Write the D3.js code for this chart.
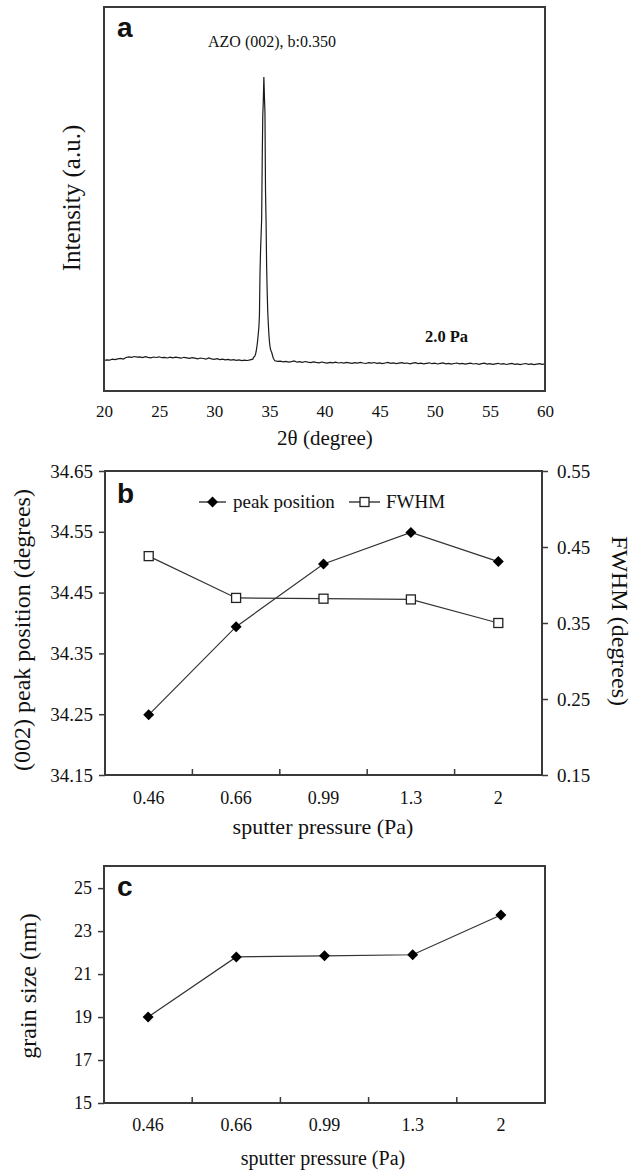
<!DOCTYPE html>
<html><head><meta charset="utf-8">
<script src="https://cdn.jsdelivr.net/npm/d3@7"></script>
<style>
body{margin:0;background:#fff;}
svg text{font-family:"Liberation Serif","Times New Roman",serif;fill:#111;}
</style></head>
<body><svg id="c" width="635" height="1170" font-family="Liberation Serif"></svg>
<script>
// ---------- Panel a: XRD pattern (2θ vs intensity) ----------
const xrdLeftStart = 20.0, xrdStep = 0.25;
const xrdLeft = [305,312,308,318,314,322,326,320,335,342,336,345,338,341,334,344,337,332,340,335,342,333,336,330,338,331,339,334,328,337,332,326,334,329,322,330,325,318,331,322,316,323,314,319,312,317,309,314,306,311,304,309,305,312,318];
const xrdPeakAngles = [33.55,33.60,33.65,33.70,33.75,33.80,33.85,33.90,33.95,34.00,34.05,34.10,34.15,34.20,34.25,34.30,34.35,34.40,34.45,34.50,34.55,34.60,34.65,34.70,34.75,34.80,34.85,34.90,34.95,35.00,35.05,35.10,35.15,35.20,35.25,35.30,35.35,35.40,35.45];
const xrdPeak = [335,340,345,355,370,395,430,470,520,580,640,760,1180,1400,1560,1720,2300,2750,2900,3140,2950,2780,2000,1700,1250,1000,800,680,580,500,450,420,400,390,370,350,330,320,310];
const xrdRightStart = 35.5;
const xrdRight = [302,296,299,291,297,289,294,300,288,293,286,295,289,284,292,286,281,290,284,279,287,282,289,280,285,278,286,281,276,284,279,287,280,275,283,278,285,277,282,274,280,286,277,281,273,279,284,276,280,272,278,283,274,279,271,277,282,273,278,270,276,281,272,277,269,275,280,271,276,268,274,279,270,275,267,273,278,269,274,266,272,277,268,273,265,271,276,267,272,264,270,275,266,271,263,269,274,266,271];
const xTicksA = [20,25,30,35,40,45,50,55,60];

// ---------- Panel b ----------
const pressures = ["0.46","0.66","0.99","1.3","2"];
const peakPosition = [34.249,34.394,34.497,34.549,34.501];
const fwhm = [0.438,0.383,0.382,0.381,0.350];
const leftTicksB = [34.15,34.25,34.35,34.45,34.55,34.65];
const rightTicksB = [0.15,0.25,0.35,0.45,0.55];

// ---------- Panel c ----------
const grainSize = [19.0,21.8,21.85,21.9,23.75];
const ticksC = [15,17,19,21,23,25];

const SERIF = "Liberation Serif";
const SANS = "Liberation Sans";
const svg = d3.select("#c");
const frameColor = "#3a3a3a";

function txt(x,y,s,fs,opts={}){
  const t = svg.append("text").attr("x",x).attr("y",y).text(s)
    .attr("font-family",opts.family||SERIF).attr("font-size",fs)
    .style("font-family",opts.family||SERIF).style("font-size",fs+"px").attr("fill","#111");
  if(opts.anchor) t.attr("text-anchor",opts.anchor);
  if(opts.weight) t.attr("font-weight",opts.weight).style("font-weight",opts.weight);
  if(opts.transform) t.attr("transform",opts.transform).attr("x",0).attr("y",0);
  return t;
}
function frame(x0,x1,y0,y1){
  svg.append("rect").attr("x",x0).attr("y",y0).attr("width",x1-x0).attr("height",y1-y0)
    .attr("fill","none").attr("stroke",frameColor).attr("stroke-width",2);
}
function styleAxis(g,fs){
  g.attr("font-family",SERIF).attr("font-size",fs);
  g.select(".domain").remove();
  g.selectAll("line").attr("stroke",frameColor).attr("stroke-width",1.5);
  g.selectAll("text").attr("font-family",SERIF).style("font-family",SERIF).style("font-size",fs+"px").attr("fill","#111");
}
function diamond(g,x,y,r){
  g.append("path").attr("d",`M${x},${y-r}L${x+r},${y}L${x},${y+r}L${x-r},${y}Z`).attr("fill","#000");
}
function square(g,x,y,s){
  g.append("rect").attr("x",x-s/2).attr("y",y-s/2).attr("width",s).attr("height",s)
   .attr("fill","#fff").attr("stroke","#222").attr("stroke-width",1.3);
}

// ===== Panel a =====
const A = {l:104,r:545,t:7,b:391};
const xA = d3.scaleLinear().domain([20,60]).range([A.l,A.r]);
const yA = d3.scaleLinear().domain([0,3840]).range([A.b,A.t]);
const xrd = [];
xrdLeft.forEach((v,i)=>xrd.push([xrdLeftStart+i*xrdStep,v]));
xrdPeak.forEach((v,i)=>xrd.push([xrdPeakAngles[i],v]));
xrdRight.forEach((v,i)=>xrd.push([xrdRightStart+i*xrdStep,v]));
xrd.sort((a,b)=>a[0]-b[0]);
svg.append("path").datum(xrd)
  .attr("d",d3.line().x(d=>xA(d[0])).y(d=>yA(d[1])))
  .attr("fill","none").attr("stroke","#1a1a1a").attr("stroke-width",1.2);
frame(A.l,A.r,A.t,A.b);
const gxa = svg.append("g").attr("transform",`translate(0,${A.b})`)
  .call(d3.axisBottom(xA).tickValues(xTicksA).tickSize(0).tickPadding(14));
styleAxis(gxa,17);
txt(117,37,"a",28,{family:SANS,weight:"bold"});
txt(208,47,"AZO (002), b:0.350",16);
txt(425,342,"2.0 Pa",16.5,{weight:"600"});
txt(0,0,"Intensity (a.u.)",25,{anchor:"middle",transform:"translate(80,198) rotate(-90)"});
txt(325,445,"2θ (degree)",21,{anchor:"middle"});

// ===== Panel b =====
const B = {l:105,r:542,t:471,b:775};
const xB = d3.scaleBand().domain(pressures).range([B.l,B.r]);
const cx = c => xB(c)+xB.bandwidth()/2;
const yBL = d3.scaleLinear().domain([34.15,34.65]).range([B.b,B.t]);
const yBR = d3.scaleLinear().domain([0.15,0.55]).range([B.b,B.t]);
frame(B.l,B.r,B.t,B.b);
const gbt = svg.append("g");
pressures.slice(1).forEach(p=>{
  gbt.append("line").attr("x1",xB(p)).attr("x2",xB(p)).attr("y1",B.b).attr("y2",B.b-6)
    .attr("stroke",frameColor).attr("stroke-width",1.5);
});
const gxb = svg.append("g").attr("transform",`translate(0,${B.b})`)
  .call(d3.axisBottom(xB).tickSize(0).tickPadding(16));
styleAxis(gxb,18);
const gyl = svg.append("g").attr("transform",`translate(${B.l},0)`)
  .call(d3.axisLeft(yBL).tickValues(leftTicksB).tickFormat(d3.format(".2f")).tickSize(6).tickPadding(6));
styleAxis(gyl,19);
const gyr = svg.append("g").attr("transform",`translate(${B.r},0)`)
  .call(d3.axisRight(yBR).tickValues(rightTicksB).tickFormat(d3.format(".2f")).tickSize(6).tickPadding(9));
styleAxis(gyr,19);
const lineB1 = d3.line().x((d,i)=>cx(pressures[i])).y(d=>yBL(d));
const lineB2 = d3.line().x((d,i)=>cx(pressures[i])).y(d=>yBR(d));
svg.append("path").attr("d",lineB2(fwhm)).attr("fill","none").attr("stroke","#333").attr("stroke-width",1.2);
svg.append("path").attr("d",lineB1(peakPosition)).attr("fill","none").attr("stroke","#333").attr("stroke-width",1.2);
const gm = svg.append("g");
fwhm.forEach((v,i)=>square(gm,cx(pressures[i]),yBR(v),9));
peakPosition.forEach((v,i)=>diamond(gm,cx(pressures[i]),yBL(v),5.5));
const lg = svg.append("g");
lg.append("line").attr("x1",199).attr("x2",226).attr("y1",502).attr("y2",502).attr("stroke","#222").attr("stroke-width",1.3);
diamond(lg,212.5,502,5.5);
lg.append("line").attr("x1",349).attr("x2",380).attr("y1",502).attr("y2",502).attr("stroke","#222").attr("stroke-width",1.3);
square(lg,364.5,502,9);
txt(233,508,"peak position",19);
txt(386,508,"FWHM",19);
txt(117,503,"b",28,{family:SANS,weight:"bold"});
txt(0,0,"(002) peak position (degrees)",24,{anchor:"middle",transform:"translate(30,630) rotate(-90)"});
txt(0,0,"FWHM (degrees)",24,{anchor:"middle",transform:"translate(612,621) rotate(90)"});
txt(323,834,"sputter pressure (Pa)",22,{anchor:"middle"});

// ===== Panel c =====
const C = {l:104,r:545,t:866,b:1103};
const xC = d3.scaleBand().domain(pressures).range([C.l,C.r]);
const cxc = c => xC(c)+xC.bandwidth()/2;
const yC = d3.scaleLinear().domain([15,26.03]).range([C.b,C.t]);
frame(C.l,C.r,C.t,C.b);
const gct = svg.append("g");
pressures.slice(1).forEach(p=>{
  gct.append("line").attr("x1",xC(p)).attr("x2",xC(p)).attr("y1",C.b).attr("y2",C.b-6)
    .attr("stroke",frameColor).attr("stroke-width",1.5);
});
const gxc = svg.append("g").attr("transform",`translate(0,${C.b})`)
  .call(d3.axisBottom(xC).tickSize(0).tickPadding(15));
styleAxis(gxc,18);
const gyc = svg.append("g").attr("transform",`translate(${C.l},0)`)
  .call(d3.axisLeft(yC).tickValues(ticksC).tickSize(6).tickPadding(6));
styleAxis(gyc,18);
svg.append("path").attr("d",d3.line().x((d,i)=>cxc(pressures[i])).y(d=>yC(d))(grainSize))
  .attr("fill","none").attr("stroke","#333").attr("stroke-width",1.2);
const gmc = svg.append("g");
grainSize.forEach((v,i)=>diamond(gmc,cxc(pressures[i]),yC(v),5.5));
txt(117,896,"c",28,{family:SANS,weight:"bold"});
txt(0,0,"grain size (nm)",24,{anchor:"middle",transform:"translate(36,986) rotate(-90)"});
txt(323,1165,"sputter pressure (Pa)",20,{anchor:"middle"});
</script></body></html>
